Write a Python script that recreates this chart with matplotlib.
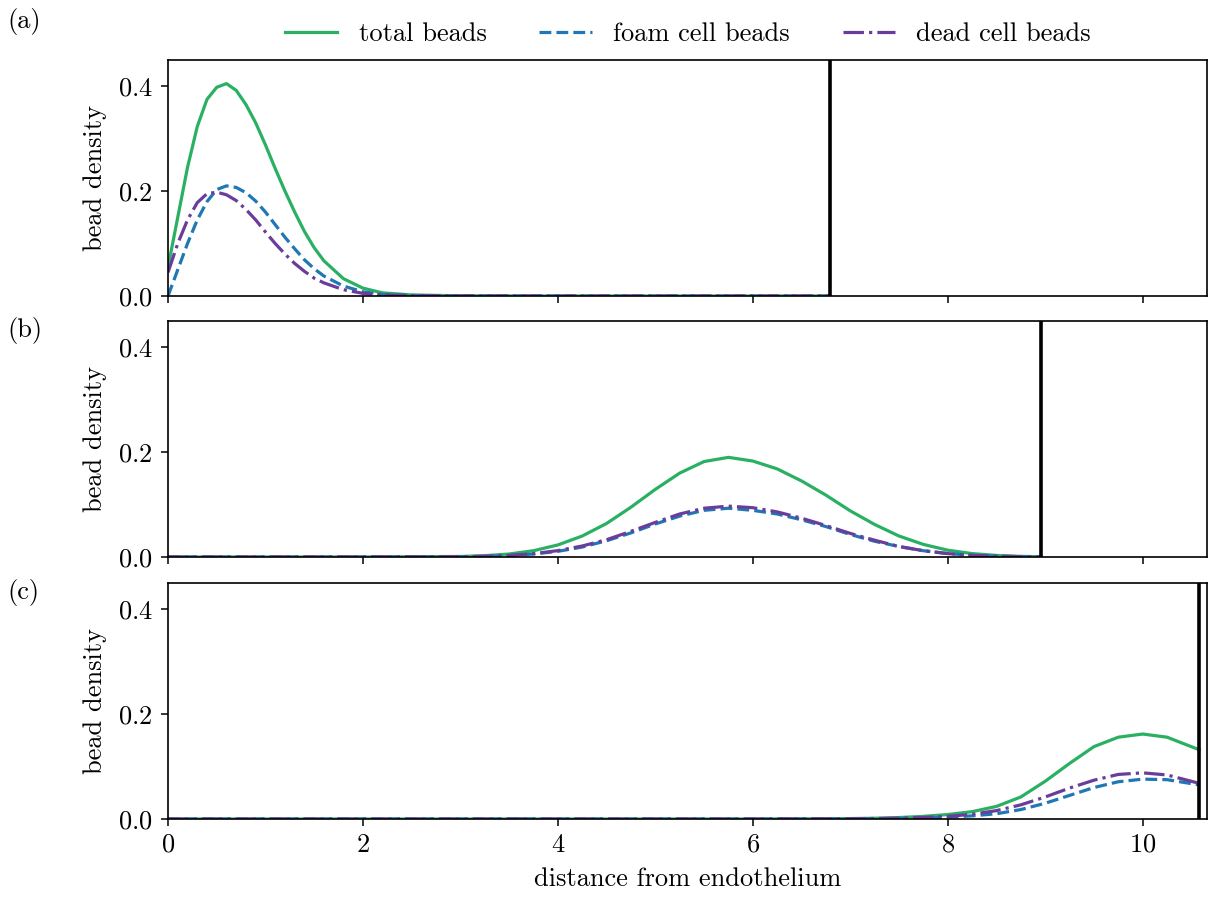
import matplotlib
matplotlib.use("Agg")
import matplotlib.pyplot as plt

plt.rcParams.update({
    "font.family": "serif",
    "font.serif": ["cmr10", "DejaVu Serif"],
    "mathtext.fontset": "cm",
    "axes.formatter.use_mathtext": True,
    "axes.unicode_minus": False,
    "font.size": 19,
    "axes.linewidth": 1.2,
    "xtick.major.width": 1.1,
    "ytick.major.width": 1.1,
    "xtick.major.size": 5,
    "ytick.major.size": 5,
    "xtick.major.pad": 5,
    "ytick.major.pad": 6,
})

# ---- data ----
labels = ["total beads", "foam cell beads", "dead cell beads"]
colors = ["#2ab062", "#1f78b4", "#6a3d9a"]
styles = ["-", "--", "-."]

# (a) early lesion
x_a = [0, 0.1, 0.2, 0.3, 0.4, 0.5, 0.6, 0.7, 0.8, 0.9, 1.0, 1.1, 1.2, 1.3,
       1.4, 1.5, 1.6, 1.8, 2.0, 2.2, 2.5, 3.0, 4.0, 5.0, 6.0, 6.79]
total_a = [0.055, 0.15, 0.245, 0.323, 0.375, 0.398, 0.405, 0.392, 0.365, 0.33,
           0.288, 0.243, 0.2, 0.16, 0.123, 0.092, 0.067, 0.033, 0.015, 0.006,
           0.002, 0.0004, 0, 0, 0, 0]
foam_a = [0.0, 0.05, 0.10, 0.145, 0.18, 0.203, 0.21, 0.207, 0.197, 0.181,
          0.16, 0.136, 0.112, 0.09, 0.069, 0.052, 0.038, 0.019, 0.008, 0.003,
          0.001, 0.0002, 0, 0, 0, 0]
dead_a = [0.045, 0.10, 0.145, 0.178, 0.195, 0.198, 0.193, 0.182, 0.165, 0.145,
          0.122, 0.1, 0.08, 0.062, 0.047, 0.034, 0.025, 0.012, 0.005, 0.002,
          0.0007, 0.0001, 0, 0, 0, 0]

# (b) intermediate
x_b = [0, 1, 2, 3.0, 3.25, 3.5, 3.75, 4.0, 4.25, 4.5, 4.75, 5.0, 5.25, 5.5,
       5.75, 6.0, 6.25, 6.5, 6.75, 7.0, 7.25, 7.5, 7.75, 8.0, 8.25, 8.5, 8.75, 8.96]
total_b = [0, 0, 0.0001, 0.001, 0.0025, 0.0057, 0.012, 0.023, 0.040, 0.064,
           0.095, 0.129, 0.160, 0.182, 0.190, 0.183, 0.168, 0.145, 0.118, 0.088,
           0.062, 0.040, 0.024, 0.013, 0.0065, 0.003, 0.0012, 0.0006]
foam_b = [0, 0, 0, 0.0004, 0.0011, 0.0027, 0.0057, 0.0108, 0.019, 0.031,
          0.046, 0.063, 0.078, 0.089, 0.093, 0.089, 0.082, 0.071, 0.058, 0.043,
          0.030, 0.020, 0.012, 0.0065, 0.0033, 0.0015, 0.0006, 0.0003]
dead_b = [0, 0, 0.0001, 0.0006, 0.0014, 0.003, 0.0063, 0.0122, 0.021, 0.033,
          0.049, 0.066, 0.082, 0.093, 0.097, 0.094, 0.086, 0.074, 0.060, 0.045,
          0.032, 0.020, 0.012, 0.0065, 0.0032, 0.0015, 0.0006, 0.0003]

# (c) late
x_c = [0, 2, 4, 6, 6.5, 7.0, 7.25, 7.5, 7.75, 8.0, 8.25, 8.5, 8.75, 9.0,
       9.25, 9.5, 9.75, 10.0, 10.25, 10.58]
total_c = [0, 0, 0, 0, 0.0003, 0.0008, 0.0015, 0.0028, 0.005, 0.0085, 0.014,
           0.024, 0.042, 0.072, 0.106, 0.138, 0.156, 0.162, 0.156, 0.132]
foam_c = [0, 0, 0, 0, 0.0001, 0.0003, 0.0006, 0.001, 0.002, 0.0035, 0.006,
          0.010, 0.018, 0.030, 0.045, 0.060, 0.071, 0.076, 0.075, 0.065]
dead_c = [0, 0, 0, 0, 0.0002, 0.0005, 0.0009, 0.0015, 0.003, 0.005, 0.009,
          0.016, 0.027, 0.042, 0.059, 0.074, 0.085, 0.088, 0.084, 0.068]

boundaries = [6.79, 8.96, 10.58]
panel_tags = ["(a)", "(b)", "(c)"]

panels = [
    (x_a, [total_a, foam_a, dead_a]),
    (x_b, [total_b, foam_b, dead_b]),
    (x_c, [total_c, foam_c, dead_c]),
]

fig = plt.figure(figsize=(12.11, 9.0), dpi=100)
left, right = 168 / 1211, 1207.5 / 1211
tops = [60, 321, 583]
bottoms = [296, 557, 819]

axes = []
for i, (xs, series) in enumerate(panels):
    y0 = 1 - bottoms[i] / 900
    h = (bottoms[i] - tops[i]) / 900
    ax = fig.add_axes([left, y0, right - left, h],
                      sharex=axes[0] if axes else None)
    for ys, lab, c, ls in zip(series, labels, colors, styles):
        ax.plot(xs, ys, ls, color=c, lw=2.3, label=lab)
    ax.axvline(boundaries[i], color="black", lw=2.6, zorder=5)
    ax.set_ylim(0, 0.45)
    ax.set_yticks([0.0, 0.2, 0.4])
    ax.set_ylabel("bead density", labelpad=8)
    ax.set_xlim(0, 10.665)
    ax.set_xticks([0, 2, 4, 6, 8, 10])
    if i < 2:
        ax.tick_params(labelbottom=False)
    axes.append(ax)

axes[-1].set_xlabel("distance from endothelium", labelpad=8)

fig.text(0.006, 0.976, panel_tags[0], va="center", ha="left", fontsize=19)
fig.text(0.006, 1 - 330 / 900, panel_tags[1], va="center", ha="left", fontsize=19)
fig.text(0.006, 1 - 592 / 900, panel_tags[2], va="center", ha="left", fontsize=19)

handles, labs = axes[0].get_legend_handles_labels()
fig.legend(handles, labs, loc="center", bbox_to_anchor=(0.568, 0.962),
           ncol=3, frameon=False, fontsize=19)

fig.savefig("out.png", dpi=100)
